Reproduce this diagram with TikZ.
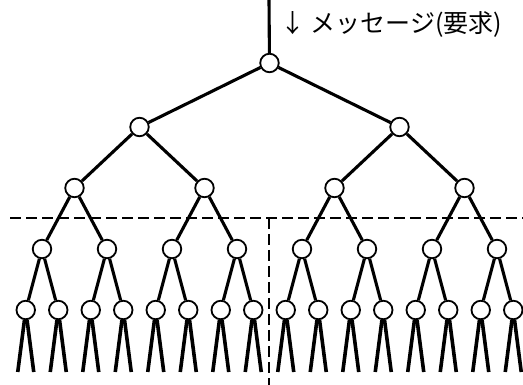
\documentclass[tikz,border=0pt]{standalone}
\usepackage{fontspec}
\usetikzlibrary{calc}
\newfontfamily\cjk{Noto Sans CJK JP}
\begin{document}
\begin{tikzpicture}[x=1pt,y=-1pt,
  nd/.style={circle,draw=black,line width=1.8pt,fill=white,minimum size=18.5pt,inner sep=0pt},
  edge/.style={line width=3.1pt},
  leg/.style={line width=3.6pt},
  sep/.style={line width=1.3pt,dash pattern=on 11pt off 5pt},
  lbl/.style={font=\cjk\fontsize{25pt}{29pt}\selectfont,anchor=west,inner sep=0pt}]
\useasboundingbox (0,0) rectangle (523,385);
% dashed separators
\coordinate (hl) at (10,218);
\coordinate (hr) at (523,218);
\coordinate (vt) at (269,218);
\coordinate (vb) at (269,385);
\draw[sep] (hl) -- (hr);
\draw[sep] (vt) -- (vb);
% input line and label
\coordinate (top) at (269,0);
\node[lbl] (msg) at (280,24) {↓ メッセージ(要求)};
% node positions
\node[nd] (p) at (269.5,63) {};
\foreach \i/\x in {0/139.5,1/399.5} \node[nd] (a\i) at (\x,127) {};
\foreach \i in {0,...,3} \node[nd] (b\i) at ({74.5+130*\i},188) {};
\foreach \i in {0,...,7} \node[nd] (c\i) at ({42+65*\i},249) {};
\foreach \i in {0,...,15} \node[nd] (d\i) at ({25.75+32.5*\i},310) {};
% edges
\draw[edge] (top) -- (p);
\foreach \i in {0,1} \draw[edge] (p) -- (a\i);
\foreach \i in {0,...,3} {\pgfmathtruncatemacro\j{int(\i/2)} \draw[edge] (a\j) -- (b\i);}
\foreach \i in {0,...,7} {\pgfmathtruncatemacro\j{int(\i/2)} \draw[edge] (b\j) -- (c\i);}
\foreach \i in {0,...,15} {\pgfmathtruncatemacro\j{int(\i/2)} \draw[edge] (c\j) -- (d\i);}
% leaf legs
\foreach \i in {0,...,15} {
  \coordinate (l\i) at ($(d\i.center)+(-8,62)$);
  \coordinate (r\i) at ($(d\i.center)+(8,62)$);
  \draw[leg] (d\i) -- (l\i);
  \draw[leg] (d\i) -- (r\i);
}
\end{tikzpicture}
\end{document}
